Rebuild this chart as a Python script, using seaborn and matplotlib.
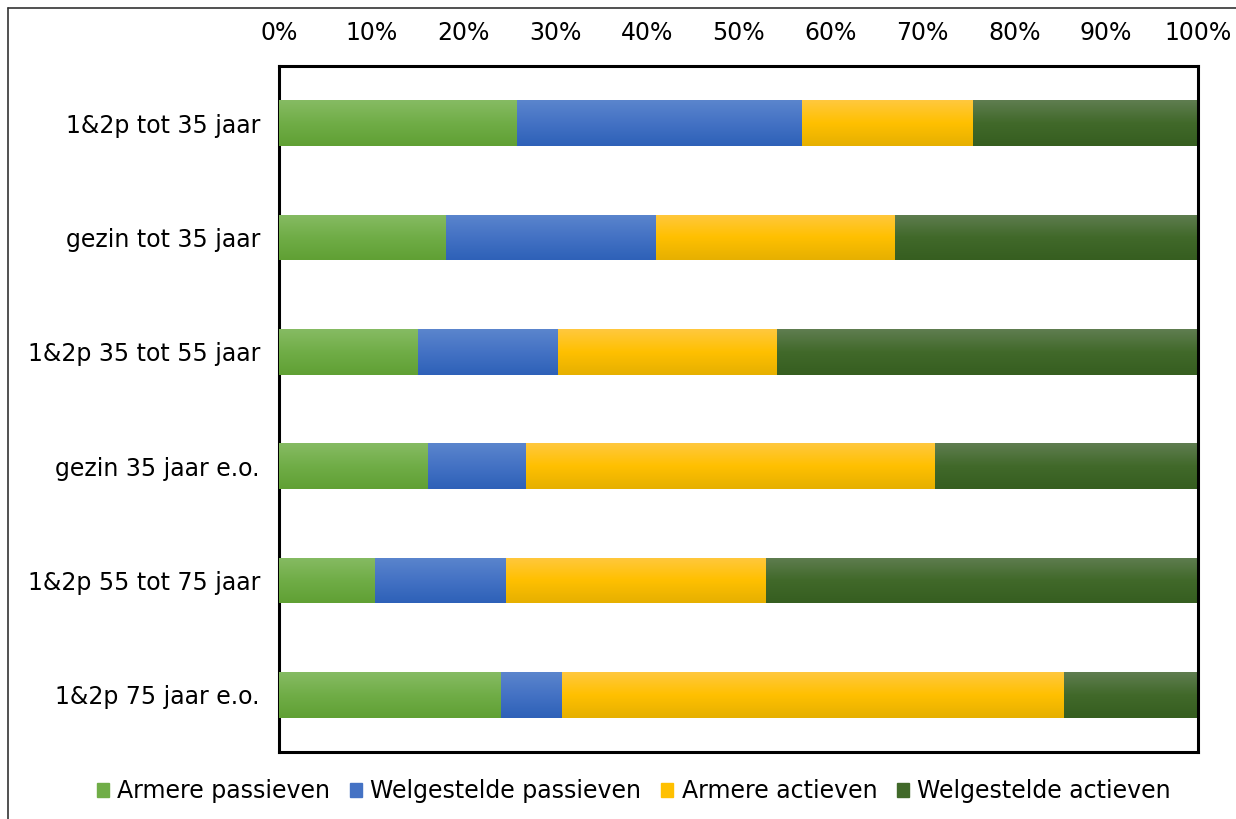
import numpy as np
import pandas as pd
import matplotlib
matplotlib.use("Agg")
import matplotlib.pyplot as plt
from matplotlib.lines import Line2D
from matplotlib.colors import LinearSegmentedColormap
import seaborn as sns

categories = ["1&2p tot 35 jaar", "gezin tot 35 jaar", "1&2p 35 tot 55 jaar",
              "gezin 35 jaar e.o.", "1&2p 55 tot 75 jaar", "1&2p 75 jaar e.o."]
series_names = ["Armere passieven", "Welgestelde passieven", "Armere actieven", "Welgestelde actieven"]
armere_passieven = [25.9, 18.1, 15.1, 16.2, 10.4, 24.1]
welgestelde_passieven = [31.0, 22.9, 15.2, 10.6, 14.2, 6.6]
armere_actieven = [18.6, 26.0, 23.9, 44.5, 28.3, 54.7]
welgestelde_actieven = [24.5, 33.0, 45.8, 28.7, 47.1, 14.6]
tick_values = list(range(0, 101, 10))
tick_labels = [f"{v}%" for v in tick_values]

colors = ["#70AD47", "#4472C4", "#FFC000", "#41692A"]
grad = [("#86BB63", "#70AD47", "#60A034"),
        ("#5B85CD", "#4472C4", "#2E61B8"),
        ("#FFC83E", "#FFC000", "#E6B000"),
        ("#5F7D50", "#41692A", "#365E20")]

sns.set_theme(style="white")
plt.rcParams["font.family"] = ["DejaVu Sans"]
plt.rcParams["text.color"] = "black"

FS = 17

fig = plt.figure(figsize=(12.36, 8.19), dpi=100)
ax = fig.add_axes([0.226, 0.0818, 0.7433, 0.8376])

vals = [armere_passieven, welgestelde_passieven, armere_actieven, welgestelde_actieven]
cum = np.cumsum(np.array(vals), axis=0)
df = pd.DataFrame({"cat": categories})
# draw from widest cumulative to narrowest
for i in range(3, -1, -1):
    df["v"] = cum[i]
    n_before = len(ax.patches)
    sns.barplot(data=df, x="v", y="cat", orient="h", color=colors[i], width=0.4,
                saturation=1, ax=ax, linewidth=0, zorder=2 + (3 - i) * 2)
    cmap = LinearSegmentedColormap.from_list(f"g{i}", list(grad[i]))
    for p in ax.patches[n_before:]:
        p.set_zorder(2 + (3 - i) * 2)
        x0, y0 = p.get_x(), p.get_y()
        w, h = p.get_width(), p.get_height()
        im = ax.imshow(np.linspace(0, 1, 64).reshape(-1, 1), cmap=cmap, aspect="auto",
                       extent=[x0, x0 + w, y0 + h, y0], zorder=2.5 + (3 - i) * 2,
                       interpolation="bilinear")
        im.set_clip_path(p)

ax.set_xlim(0, 100)
ax.set_ylim(5.5, -0.5)
ax.set_xticks(tick_values)
ax.set_xticklabels(tick_labels)
ax.xaxis.tick_top()
ax.tick_params(axis="x", length=0, pad=15, labelsize=FS, colors="black")
ax.tick_params(axis="y", length=0, pad=14, labelsize=FS, colors="black")
ax.set_xlabel("")
ax.set_ylabel("")
for s in ax.spines.values():
    s.set_visible(True)
    s.set_color("black")
    s.set_linewidth(2.2)

handles = [plt.Rectangle((0, 0), 1, 1, color=c) for c in colors]
leg = fig.legend(handles, series_names, loc="center", bbox_to_anchor=(0.513, 0.034), ncol=4,
                 frameon=False, fontsize=FS, handlelength=0.5, handleheight=0.5,
                 handletextpad=0.35, columnspacing=0.85)
for t in leg.get_texts():
    t.set_color("black")

fig.add_artist(Line2D([8 / 1236, 8 / 1236], [0, 1 - 8 / 819], transform=fig.transFigure,
                      color="#333333", linewidth=1.2))
fig.add_artist(Line2D([8 / 1236, 1], [1 - 8 / 819, 1 - 8 / 819], transform=fig.transFigure,
                      color="#333333", linewidth=1.2))

fig.savefig("out.png", dpi=100, facecolor="white")
